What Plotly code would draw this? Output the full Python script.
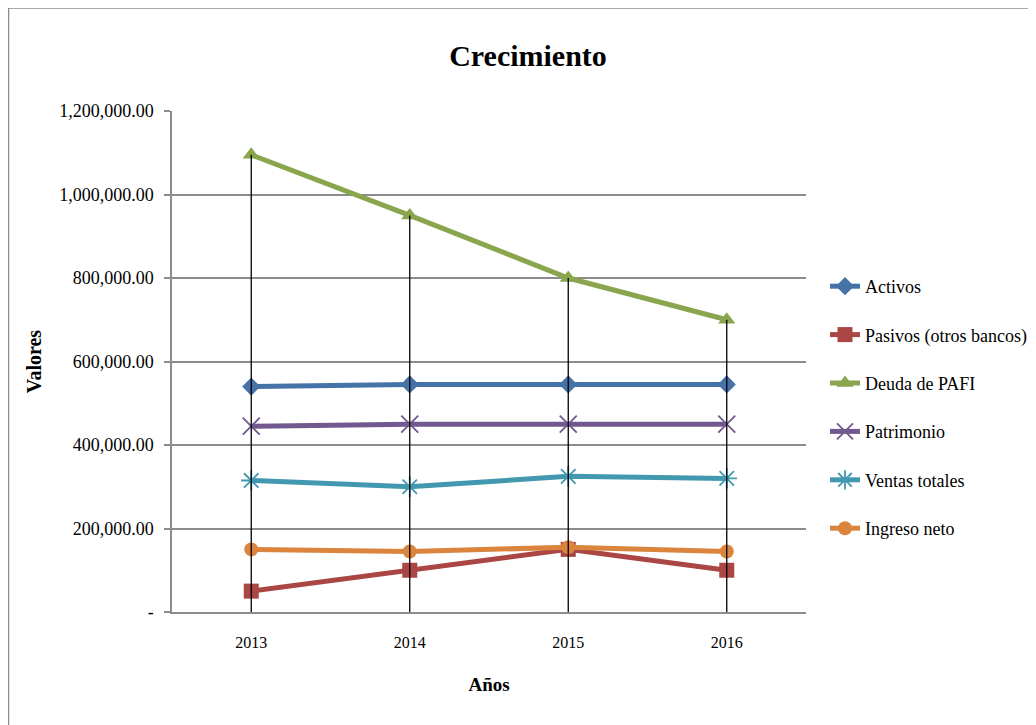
import plotly.graph_objects as go

years = ["2013", "2014", "2015", "2016"]
activos = [540000, 545000, 545000, 545000]
pasivos = [50000, 100000, 150000, 100000]
deuda = [1095000, 950000, 800000, 700000]
patrimonio = [445000, 450000, 450000, 450000]
ventas = [315000, 300000, 325000, 320000]
ingreso = [150000, 145000, 155000, 145000]

series_names = ["Activos", "Pasivos (otros bancos)", "Deuda de PAFI", "Patrimonio", "Ventas totales", "Ingreso neto"]
series_values = [activos, pasivos, deuda, patrimonio, ventas, ingreso]
colors = ["#4572A7", "#AA4643", "#89A54E", "#71588F", "#4198AF", "#DB843D"]
symbols = ["diamond", "square", "triangle-up", "x-thin-open", "asterisk-open", "circle"]
sizes = [14, 15, 15, 17, 17, 14]

ytick_vals = [0, 200000, 400000, 600000, 800000, 1000000, 1200000]
ytick_text = ["-", "200,000.00", "400,000.00", "600,000.00", "800,000.00", "1,000,000.00", "1,200,000.00"]

FONT = '"Liberation Serif", "Times New Roman", Times, serif'
OFF = 8  # page body margin
W, H = 1036, 725
L, R, T, B = 172 - OFF, 806 - OFF, 111 - OFF, 612 - OFF

fig = go.Figure()
for i, (name, vals) in enumerate(zip(series_names, series_values)):
    open_sym = symbols[i].endswith("-open")
    fig.add_trace(go.Scatter(
        x=years, y=vals, name=name, mode="lines+markers",
        line=dict(color=colors[i], width=5),
        marker=dict(symbol=symbols[i], size=sizes[i], color=colors[i],
                    line=dict(color=colors[i], width=1.8 if open_sym else 0)),
        legendgroup=name,
    ))

# drop lines from axis to the highest point at each year
dx, dy = [], []
for j, yr in enumerate(years):
    top = max(v[j] for v in series_values)
    dx += [yr, yr, None]
    dy += [0, top, None]
fig.add_trace(go.Scatter(x=dx, y=dy, mode="lines", line=dict(color="black", width=1.3),
                         showlegend=False, hoverinfo="skip"))

def px_x(p):
    return (p - OFF - L) / (R - L)

def px_y(p):
    return (B - (p - OFF)) / (B - T)

fig.update_layout(
    width=W, height=H,
    margin=dict(l=L, r=W - R, t=T, b=H - B),
    paper_bgcolor="white", plot_bgcolor="white",
    font=dict(family=FONT, color="black"),
    title=dict(text="<b>Crecimiento</b>", x=(528 - OFF) / W, xanchor="center", y=1 - (55 - OFF) / H, yanchor="middle",
               font=dict(size=30, family=FONT, color="black")),
    showlegend=True,
    legend=dict(x=px_x(825), xanchor="left", y=px_y(268), yanchor="top",
                font=dict(size=18, family=FONT, color="black"),
                tracegroupgap=22, bgcolor="rgba(0,0,0,0)", itemwidth=30),
    xaxis=dict(type="category", range=[-0.5, 3.5], showgrid=False, zeroline=False,
               showline=True, linecolor="#8c8c8c", linewidth=2, ticks="",
               tickfont=dict(size=16, family=FONT), ticklabelstandoff=15,
               title=dict(text="<b>Años</b>", font=dict(size=19, family=FONT), standoff=27)),
    yaxis=dict(range=[0, 1200000], tickvals=ytick_vals, ticktext=ytick_text,
               showgrid=True, gridcolor="#8c8c8c", gridwidth=1.5, zeroline=False,
               showline=True, linecolor="#8c8c8c", linewidth=1.5,
               ticks="outside", ticklen=6, tickcolor="#8c8c8c", tickwidth=1.5,
               tickfont=dict(size=18, family=FONT), ticklabelstandoff=7,
               title=dict(text="<b>Valores</b>", font=dict(size=20, family=FONT), standoff=12)),
    shapes=[
        dict(type="line", xref="paper", yref="paper", x0=px_x(8.5), x1=px_x(1036), y0=px_y(8), y1=px_y(8),
             line=dict(color="#8c8c8c", width=1.5)),
        dict(type="line", xref="paper", yref="paper", x0=px_x(8.5), x1=px_x(8.5), y0=px_y(8), y1=px_y(725),
             line=dict(color="#8c8c8c", width=1.5)),
    ],
)

fig.write_html("out.html")
